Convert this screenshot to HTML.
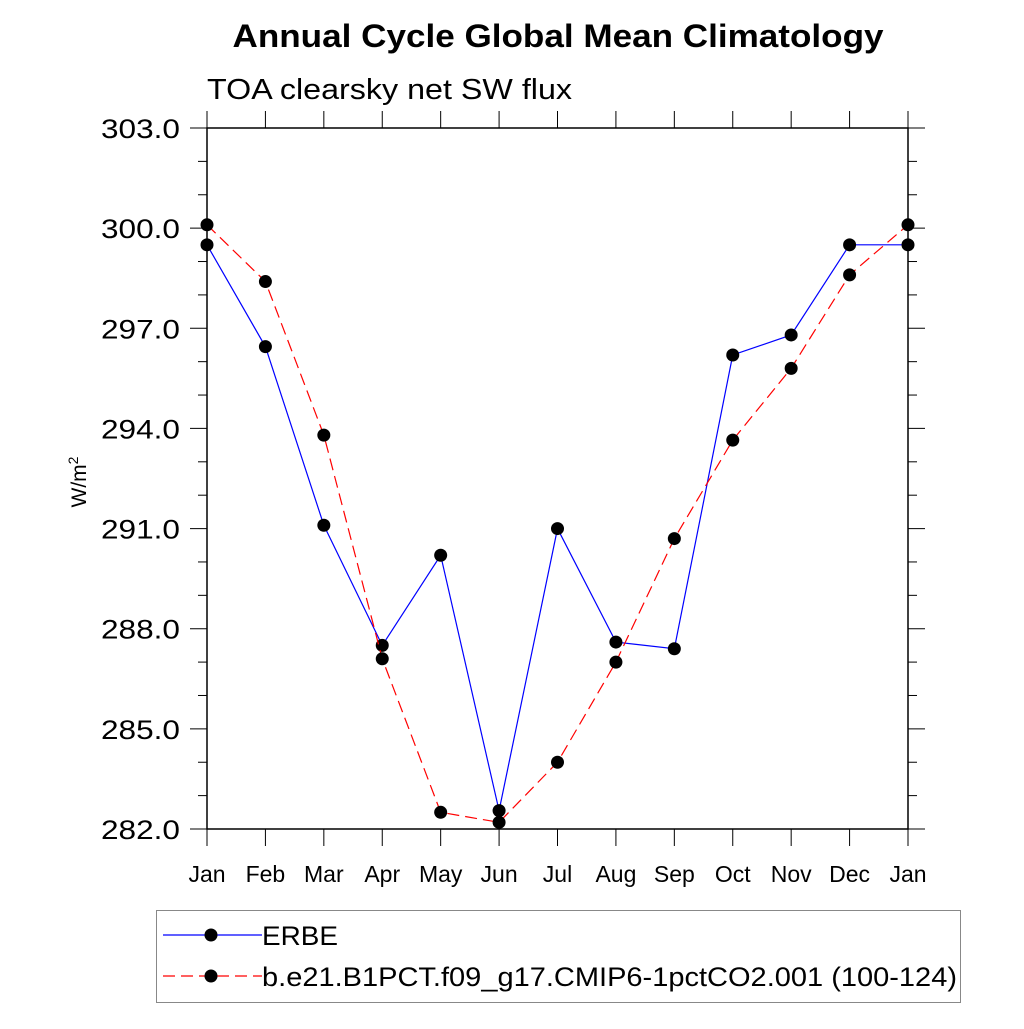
<!DOCTYPE html>
<html><head><meta charset="utf-8"><style>
body{margin:0;background:#fff;}
svg text{font-family:"Liberation Sans",sans-serif;}
</style></head><body>
<svg id="c" width="1024" height="1024" viewBox="0 0 1024 1024">
<text x="558" y="47" font-size="32" font-weight="bold" text-anchor="middle" textLength="651" lengthAdjust="spacingAndGlyphs">Annual Cycle Global Mean Climatology</text>
<text x="207" y="99" font-size="29" textLength="365" lengthAdjust="spacingAndGlyphs">TOA clearsky net SW flux</text>
<text transform="translate(86,482) rotate(-90)" font-size="21" text-anchor="middle">W/m<tspan font-size="14" dy="-8">2</tspan></text>
<g id="axes"></g>
<g id="series"></g>
<g>
<rect x="156.5" y="910.5" width="804" height="92" fill="none" stroke="#888" stroke-width="1"/>
<line x1="163" y1="935" x2="262" y2="935" stroke="#00f" stroke-width="1.2"/>
<circle cx="211" cy="935" r="6.5" fill="#000"/>
<text x="262" y="945" font-size="27" textLength="76" lengthAdjust="spacingAndGlyphs">ERBE</text>
<line x1="163" y1="976" x2="262" y2="976" stroke="#f00" stroke-width="1.2" stroke-dasharray="12,6"/>
<circle cx="211" cy="976" r="6.5" fill="#000"/>
<text x="262" y="986" font-size="27" textLength="695" lengthAdjust="spacingAndGlyphs">b.e21.B1PCT.f09_g17.CMIP6-1pctCO2.001 (100-124)</text>
</g>
</svg>
<script>
const months=["Jan","Feb","Mar","Apr","May","Jun","Jul","Aug","Sep","Oct","Nov","Dec","Jan"];
const erbe=[299.5,296.45,291.1,287.5,290.2,282.55,291.0,287.6,287.4,296.2,296.8,299.5,299.5];
const model=[300.1,298.4,293.8,287.1,282.5,282.2,284.0,287.0,290.7,293.65,295.8,298.6,300.1];
const yTicks=[282,285,288,291,294,297,300,303];
const X0=207,X1=908,Y0=829,Y1=128,ymin=282,ymax=303;
const xs=i=>X0+i*(X1-X0)/12;
const ys=v=>Y0-(v-ymin)*(Y0-Y1)/(ymax-ymin);
const NS="http://www.w3.org/2000/svg";
function mk(tag,attrs,parent){const e=document.createElementNS(NS,tag);for(const k in attrs)e.setAttribute(k,attrs[k]);parent.appendChild(e);return e;}
const ax=document.getElementById('axes');
const fr=mk('rect',{x:X0,y:Y1,width:X1-X0,height:Y0-Y1,fill:'none',stroke:'#000','stroke-width':1.5},ax);


months.forEach((m,i)=>{
  const x=xs(i);
  mk('line',{x1:x,y1:Y0,x2:x,y2:Y0+17,stroke:'#000','stroke-width':1},ax);
  mk('line',{x1:x,y1:Y1,x2:x,y2:Y1-17,stroke:'#000','stroke-width':1},ax);
  const t=mk('text',{x:x,y:Y0+53,'font-size':23,'text-anchor':'middle'},ax);
  t.textContent=m;
  
  
});
for(let v=ymin;v<=ymax;v++){
  const y=ys(v);const major=yTicks.includes(v);const L=major?17:9;
  mk('line',{x1:X0,y1:y,x2:X0-L,y2:y,stroke:'#000','stroke-width':1},ax);
  mk('line',{x1:X1,y1:y,x2:X1+L,y2:y,stroke:'#000','stroke-width':1},ax);
}
yTicks.forEach(v=>{
  const t=mk('text',{x:180,y:ys(v)+10,'font-size':27,'text-anchor':'end',textLength:79,lengthAdjust:'spacingAndGlyphs'},ax);
  t.textContent=v.toFixed(1);
  
  
});
const sg=document.getElementById('series');
function drawSeries(vals,color,dash,name){
  const pts=vals.map((v,i)=>xs(i)+','+ys(v)).join(' ');
  const pl=mk('polyline',{points:pts,fill:'none',stroke:color,'stroke-width':1.2},sg);
  if(dash)pl.setAttribute('stroke-dasharray',dash);
  
  
  vals.forEach((v,i)=>{
    const c=mk('circle',{cx:xs(i),cy:ys(v),r:6.5,fill:'#000'},sg);
    
    
  });
}
drawSeries(erbe,'#00f',null,'erbe');
drawSeries(model,'#f00','12,6','model');
</script>
</body></html>
